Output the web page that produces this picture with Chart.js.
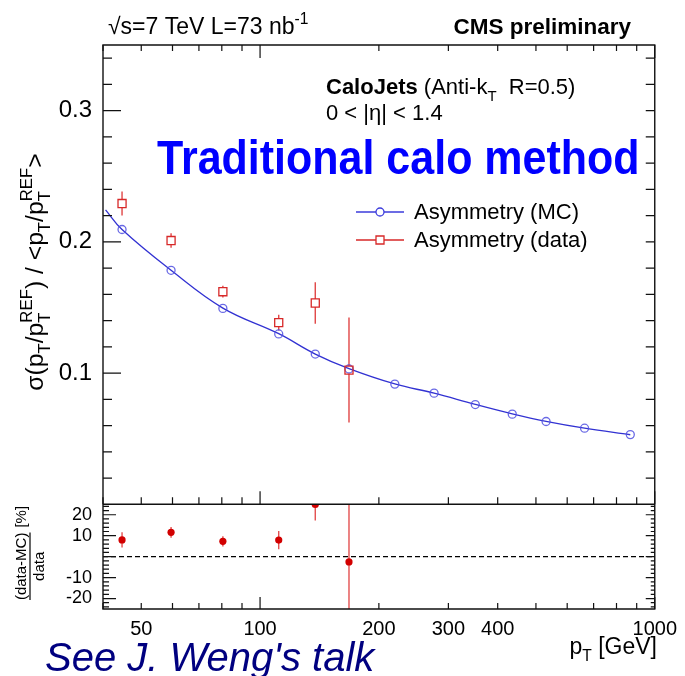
<!DOCTYPE html>
<html>
<head>
<meta charset="utf-8">
<title>CaloJets asymmetry resolution</title>
<script src="https://cdn.jsdelivr.net/npm/chart.js@4.4.1/dist/chart.umd.min.js"></script>
<style>
  html, body { margin: 0; padding: 0; background: #fff; }
  canvas { display: block; }
</style>
</head>
<body>
<canvas id="resChart" width="685" height="676"></canvas>
<script>
'use strict';

// values
const binPt = [44.7, 59.5, 80.5, 111.5, 138, 168];
const mcPt = [44.7, 59.5, 80.5, 111.5, 138, 168, 219.5, 276, 351, 435.5, 530.5, 664, 867];
const mcSigma = [0.2094, 0.1783, 0.1493, 0.1298, 0.1145, 0.1031, 0.0916, 0.0847, 0.0760, 0.0687, 0.0631, 0.0580, 0.0531];
const fitPt = [40.6, 44.7, 59.5, 80.5, 111.5, 138, 168, 219.5, 276, 351, 435.5, 530.5, 664, 867];
const fitSigma = [0.2244, 0.2094, 0.1783, 0.1495, 0.1300, 0.1145, 0.1034, 0.0917, 0.0847, 0.0761, 0.0689, 0.0632, 0.0580, 0.0530];
const dataSigma = [0.2292, 0.2010, 0.1620, 0.1384, 0.1534, 0.1023];
const dataSigmaErr = [0.0092, 0.0055, 0.0045, 0.0060, 0.0158, 0.0400];
const ratio = [8.0, 11.6, 7.3, 7.9, 24.9, -2.5];
const ratioErr = [3.6, 2.6, 2.5, 4.4, 7.6, 60];

const xLabels = [50, 100, 200, 300, 400, 1000];
const xMinorTicks = [40, 50, 60, 70, 80, 90, 200, 300, 400, 500, 600, 700, 800, 900];
const xMajorTicks = [100, 1000];
const yLabels = [0.1, 0.2, 0.3];
const ratioLabels = [-20, -10, 10, 20];

const FONT = '"Liberation Sans", Arial, sans-serif';
const fontStr = (size, bold, italic) =>
  (italic ? 'italic ' : '') + (bold ? 'bold ' : '') + size + 'px ' + FONT;

const isText = (p) => typeof p === 'string' || p.t !== undefined;
const partText = (p) => typeof p === 'string' ? p : p.t;
const partBold = (p) => typeof p === 'string' ? false : !!p.bold;

// text with sub/superscripts, parts are strings or {t,bold} or {sub,sup}
const richWidth = function (ctx, parts, size) {
  let w = 0;
  for (const p of parts) {
    if (isText(p)) {
      ctx.font = fontStr(size, partBold(p));
      w += ctx.measureText(partText(p)).width;
    } else {
      ctx.font = fontStr(size * 0.68);
      w += Math.max(p.sub ? ctx.measureText(p.sub).width : 0, p.sup ? ctx.measureText(p.sup).width : 0);
    }
  }
  return w;
};

const drawRich = function (ctx, parts, x, y, size, align) {
  const total = richWidth(ctx, parts, size);
  let cx = align === 'center' ? x - total / 2 : align === 'right' ? x - total : x;
  ctx.textAlign = 'left';
  ctx.textBaseline = 'alphabetic';
  for (const p of parts) {
    if (isText(p)) {
      const t = partText(p);
      ctx.font = fontStr(size, partBold(p));
      ctx.fillText(t, cx, y);
      cx += ctx.measureText(t).width;
    } else {
      ctx.font = fontStr(size * 0.68);
      let w = 0;
      if (p.sup) { ctx.fillText(p.sup, cx, y - size * 0.45); w = ctx.measureText(p.sup).width; }
      if (p.sub) { ctx.fillText(p.sub, cx, y + size * 0.3); w = Math.max(w, ctx.measureText(p.sub).width); }
      cx += w;
    }
  }
};

const drawErrorBars = function (chart) {
  const ctx = chart.ctx;
  chart.data.datasets.forEach((ds, i) => {
    if (!ds.errors) return;
    const meta = chart.getDatasetMeta(i);
    const ys = chart.scales[ds.yAxisID];
    ctx.save();
    ctx.strokeStyle = ds.errColor;
    ctx.lineWidth = 1.4;
    meta.data.forEach((pt, j) => {
      const v = ds.data[j].y;
      const e = ds.errors[j];
      const top = Math.max(ys.getPixelForValue(v + e), ys.top);
      const bot = Math.min(ys.getPixelForValue(v - e), ys.bottom);
      const gap = ds.errGap || 0;
      ctx.beginPath();
      if (top < pt.y - gap) { ctx.moveTo(pt.x, top); ctx.lineTo(pt.x, pt.y - gap); }
      if (bot > pt.y + gap) { ctx.moveTo(pt.x, pt.y + gap); ctx.lineTo(pt.x, bot); }
      ctx.stroke();
    });
    ctx.restore();
  });
};

const tickLine = function (ctx, x1, y1, x2, y2) {
  ctx.moveTo(x1, y1);
  ctx.lineTo(x2, y2);
};

const panelPlugin = {
  id: 'panels',
  beforeDatasetsDraw(chart) {
    const ctx = chart.ctx;
    const { x, y2 } = chart.scales;
    // dashed zero line of the ratio panel
    ctx.save();
    ctx.strokeStyle = '#000';
    ctx.lineWidth = 1.3;
    ctx.setLineDash([5, 3]);
    ctx.beginPath();
    const y0 = y2.getPixelForValue(0);
    tickLine(ctx, x.left, y0, x.right, y0);
    ctx.stroke();
    ctx.restore();
    drawErrorBars(chart);
  },
  afterDraw(chart) {
    const ctx = chart.ctx;
    const { x, y, y2 } = chart.scales;
    const L = x.left, R = x.right;

    ctx.save();
    ctx.strokeStyle = '#111';
    ctx.lineWidth = 1.4;
    ctx.beginPath();
    ctx.rect(L, y.top, R - L, y.bottom - y.top);
    ctx.rect(L, y2.top, R - L, y2.bottom - y2.top);
    ctx.stroke();

    ctx.lineWidth = 1.2;
    ctx.beginPath();
    // x ticks
    for (const v of xMinorTicks.concat(xMajorTicks)) {
      const px = x.getPixelForValue(v);
      const big = xMajorTicks.includes(v);
      tickLine(ctx, px, y.top, px, y.top + (big ? 13 : 6));
      tickLine(ctx, px, y.bottom, px, y.bottom - (big ? 13 : 7));
      tickLine(ctx, px, y2.bottom, px, y2.bottom - (big ? 12 : 6));
    }
    // main y ticks
    for (let k = 1; k <= 17; k++) {
      const v = k * 0.02;
      const py = y.getPixelForValue(v);
      const big = k % 5 === 0;
      tickLine(ctx, L, py, L + (big ? 18 : 9), py);
      tickLine(ctx, R, py, R - 9, py);
    }
    // ratio y ticks
    for (let k = -12; k <= 12; k++) {
      const py = y2.getPixelForValue(k * 2);
      const big = k % 5 === 0;
      tickLine(ctx, L, py, L + (big ? 13 : 6), py);
      tickLine(ctx, R, py, R - (big ? 9 : 4), py);
    }
    ctx.stroke();

    // header texts
    ctx.fillStyle = '#000';
    drawRich(ctx, ['\u221As=7 TeV L=73 nb', { sup: '-1' }], 108, 34, 23, 'left');
    drawRich(ctx, [{ t: 'CMS preliminary', bold: true }], 631, 34, 22.5, 'right');
    drawRich(ctx, [{ t: 'CaloJets', bold: true }, ' (Anti-k', { sub: 'T' }, '  R=0.5)'], 326, 94, 22, 'left');
    drawRich(ctx, ['0 < |\u03B7| < 1.4'], 326, 120, 22, 'left');

    ctx.save();
    ctx.fillStyle = '#0000ff';
    ctx.translate(157, 174);
    ctx.scale(1, 1.1);
    drawRich(ctx, [{ t: 'Traditional calo method', bold: true }], 0, 0, 43, 'left');
    ctx.restore();

    // legend
    const legend = [
      { label: 'Asymmetry (MC)', color: 'rgb(60,60,220)', mark: 'circle', y: 212 },
      { label: 'Asymmetry (data)', color: 'rgb(215,40,40)', mark: 'rect', y: 240 }
    ];
    for (const item of legend) {
      ctx.strokeStyle = item.color;
      ctx.lineWidth = 1.3;
      ctx.beginPath();
      tickLine(ctx, 356, item.y, 376, item.y);
      tickLine(ctx, 384, item.y, 404, item.y);
      ctx.stroke();
      ctx.beginPath();
      if (item.mark === 'circle') ctx.arc(380, item.y, 4, 0, Math.PI * 2);
      else ctx.rect(376, item.y - 4, 8, 8);
      ctx.stroke();
      ctx.fillStyle = '#000';
      ctx.font = fontStr(22);
      ctx.textAlign = 'left';
      ctx.textBaseline = 'middle';
      ctx.fillText(item.label, 414, item.y + 1);
    }

    // axis titles
    ctx.fillStyle = '#000';
    drawRich(ctx, ['p', { sub: 'T' }, ' [GeV]'], 657, 654, 23, 'right');

    ctx.save();
    ctx.translate(43, 272);
    ctx.rotate(-Math.PI / 2);
    drawRich(ctx, ['\u03C3(p', { sub: 'T' }, '/p', { sub: 'T', sup: 'REF' }, ') / <p', { sub: 'T' }, '/p', { sub: 'T', sup: 'REF' }, '>'], 0, 0, 24.7, 'center');
    ctx.restore();

    ctx.save();
    ctx.translate(30, 553);
    ctx.rotate(-Math.PI / 2);
    ctx.font = fontStr(15);
    const numW = ctx.measureText('(data-MC)').width;
    const tagW = ctx.measureText('[%]').width;
    const start = -(numW + 5 + tagW) / 2;
    ctx.textAlign = 'center';
    ctx.textBaseline = 'alphabetic';
    ctx.fillText('(data-MC)', start + numW / 2, -4);
    ctx.fillText('data', start + numW / 2, 14);
    ctx.textAlign = 'left';
    ctx.fillText('[%]', start + numW + 5, -4);
    ctx.strokeStyle = '#000';
    ctx.lineWidth = 1.2;
    ctx.beginPath();
    tickLine(ctx, start, 0, start + numW, 0);
    ctx.stroke();
    ctx.restore();

    ctx.fillStyle = '#000080';
    ctx.font = fontStr(40, false, true);
    ctx.textAlign = 'left';
    ctx.textBaseline = 'alphabetic';
    ctx.fillText("See J. Weng's talk", 45, 671);
    ctx.restore();
  }
};

const toPoints = (xs, ys) => xs.map((v, i) => ({ x: v, y: ys[i] }));

const renderChart = function () {
  const ctx = document.getElementById('resChart').getContext('2d');
  new Chart(ctx, {
    type: 'scatter',
    data: {
      datasets: [
        {
          label: 'Asymmetry (data)',
          data: toPoints(binPt, dataSigma),
          yAxisID: 'y',
          pointStyle: 'rect',
          pointRadius: 5.7,
          borderColor: 'rgb(215,40,40)',
          backgroundColor: 'rgba(0,0,0,0)',
          pointBorderWidth: 1.3,
          errors: dataSigmaErr,
          errColor: 'rgb(225,70,70)',
          errGap: 4,
          order: 1
        },
        {
          label: 'Asymmetry (MC)',
          data: toPoints(mcPt, mcSigma),
          yAxisID: 'y',
          pointStyle: 'circle',
          pointRadius: 4,
          borderColor: 'rgba(80,80,225,0.85)',
          backgroundColor: 'rgba(0,0,0,0)',
          pointBorderWidth: 1.3,
          order: 2
        },
        {
          label: 'fit',
          data: toPoints(fitPt, fitSigma),
          yAxisID: 'y',
          showLine: true,
          tension: 0.4,
          pointRadius: 0,
          borderColor: 'rgb(50,50,210)',
          borderWidth: 1.3,
          order: 3
        },
        {
          label: '(data-MC)/data',
          data: toPoints(binPt, ratio),
          yAxisID: 'y2',
          pointStyle: 'circle',
          pointRadius: 3.6,
          borderColor: 'rgb(210,0,0)',
          backgroundColor: 'rgb(210,0,0)',
          pointBorderWidth: 0,
          errors: ratioErr,
          errColor: 'rgb(228,80,80)',
          order: 0
        }
      ]
    },
    options: {
      responsive: false,
      devicePixelRatio: 1,
      animation: false,
      layout: { padding: { left: 0, top: 45, right: 27, bottom: 0 } },
      plugins: { legend: { display: false }, tooltip: { enabled: false } },
      scales: {
        x: {
          type: 'logarithmic',
          min: 40,
          max: 1000,
          position: 'bottom',
          grid: { display: false, drawTicks: false },
          border: { display: false },
          afterBuildTicks: (scale) => { scale.ticks = xLabels.map(v => ({ value: v })); },
          afterFit: (scale) => { scale.height = 67; },
          ticks: {
            autoSkip: false,
            maxRotation: 0,
            padding: 8,
            color: '#000',
            font: { family: FONT, size: 20 },
            callback: (v) => String(v)
          }
        },
        // ratio panel first: left-side stacked boxes are placed in reverse order
        y2: {
          type: 'linear',
          min: -25,
          max: 25,
          position: 'left',
          stack: 'panels',
          stackWeight: 1,
          grid: { display: false, drawTicks: false },
          border: { display: false },
          afterBuildTicks: (scale) => { scale.ticks = ratioLabels.map(v => ({ value: v })); },
          afterFit: (scale) => { scale.width = 103; },
          ticks: {
            autoSkip: false,
            padding: 11,
            color: '#000',
            font: { family: FONT, size: 18 },
            callback: (v) => String(v)
          }
        },
        y: {
          type: 'linear',
          min: 0,
          max: 0.35,
          position: 'left',
          stack: 'panels',
          stackWeight: 4.387,
          grid: { display: false, drawTicks: false },
          border: { display: false },
          afterBuildTicks: (scale) => { scale.ticks = yLabels.map(v => ({ value: v })); },
          afterFit: (scale) => { scale.width = 103; },
          ticks: {
            autoSkip: false,
            padding: 11,
            color: '#000',
            font: { family: FONT, size: 24 },
            callback: (v) => v.toFixed(1)
          }
        }
      }
    },
    plugins: [panelPlugin]
  });
};

document.addEventListener('DOMContentLoaded', renderChart);
</script>
</body>
</html>
